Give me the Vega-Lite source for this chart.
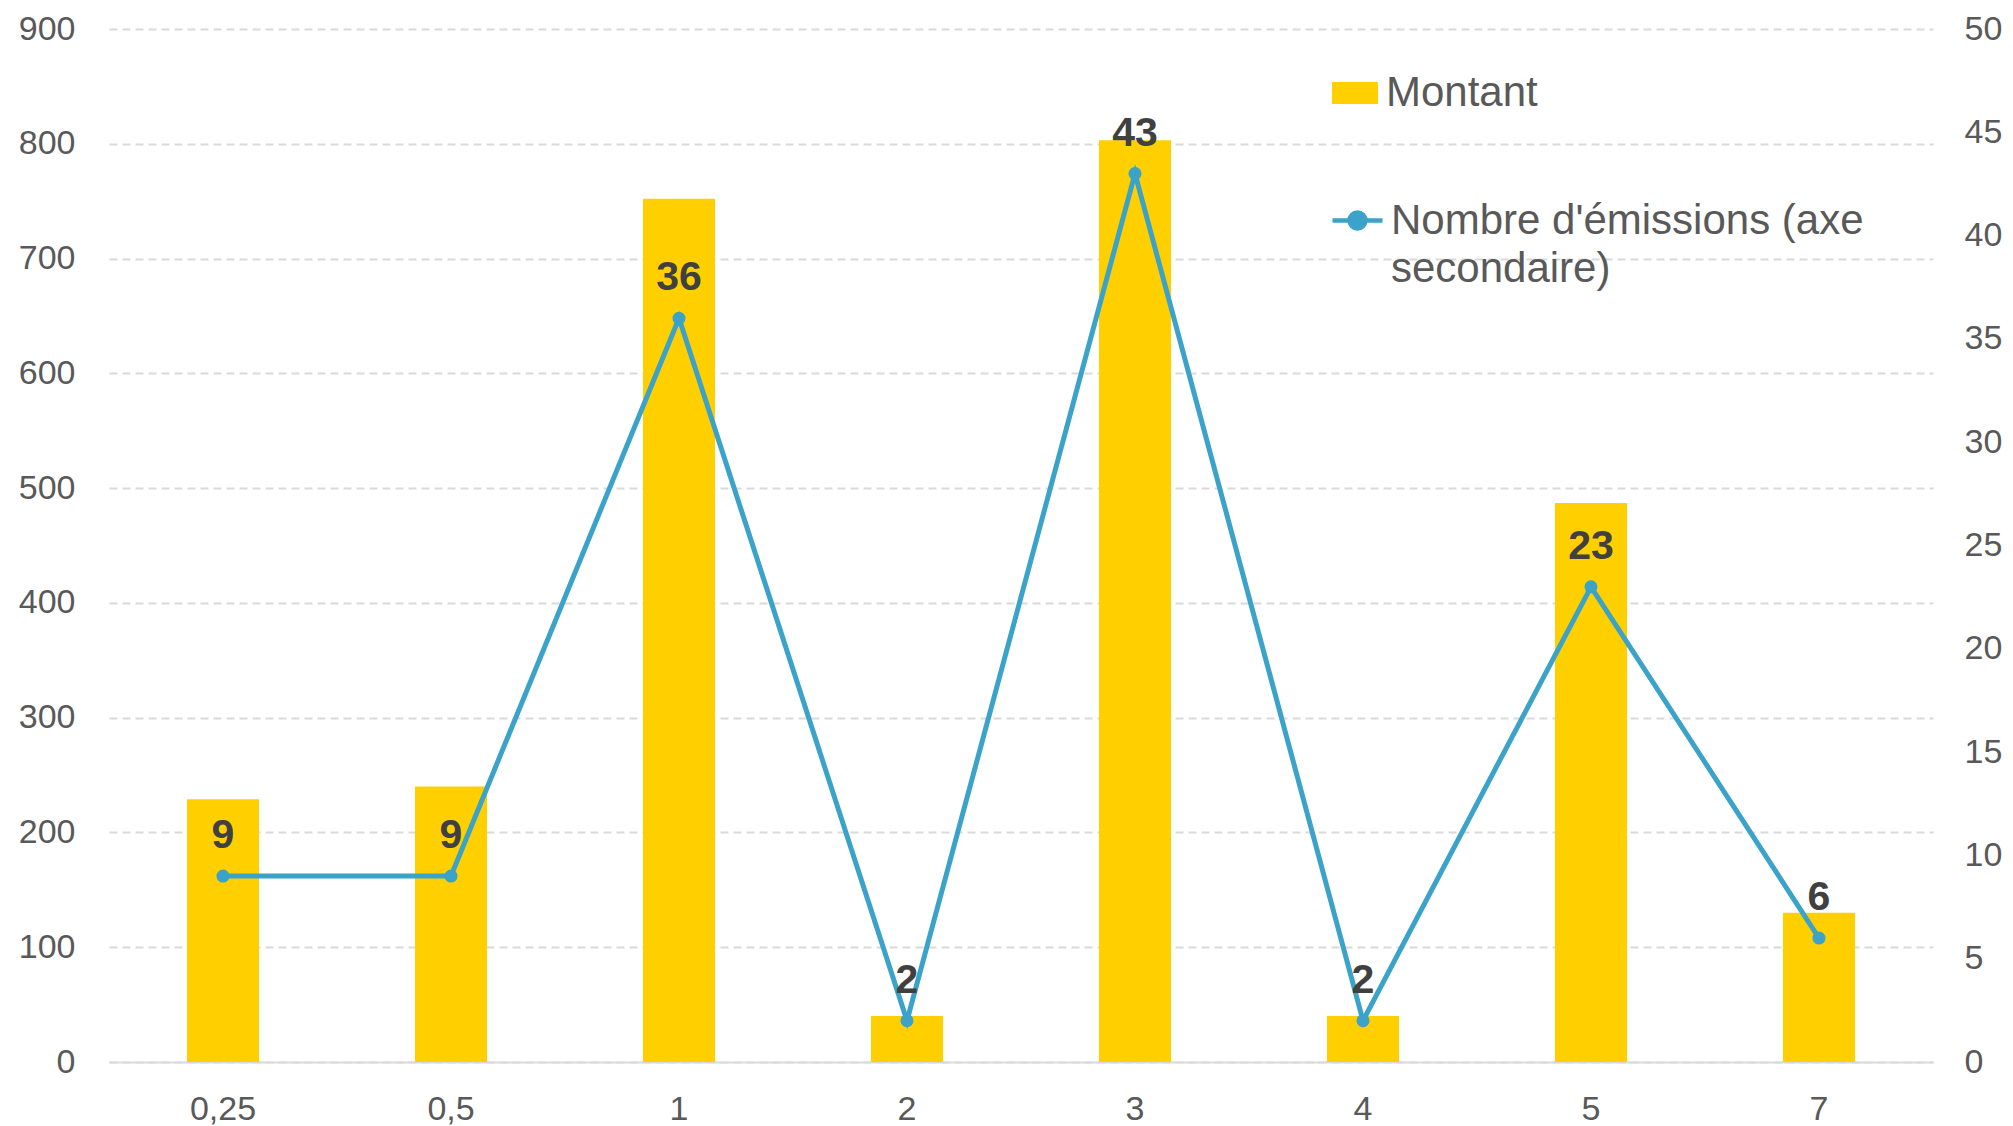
{
  "$schema": "https://vega.github.io/schema/vega-lite/v6.json",
  "width": 1824,
  "height": 1033,
  "autosize": {"type": "none"},
  "padding": {"left": 109, "top": 29, "right": 80, "bottom": 64},
  "background": "white",
  "config": {
    "font": "Liberation Sans",
    "view": {"stroke": null},
    "axis": {"labelFont": "Liberation Sans", "labelFontSize": 34, "labelColor": "#595959", "ticks": false, "tickSize": 0, "title": null, "domain": false, "grid": false},
    "legend": {"labelFont": "Liberation Sans", "labelFontSize": 42, "labelColor": "#595959", "padding": 0, "labelLimit": 700, "title": null}
  },
  "data": {
    "values": [
      {"cat": "0,25", "montant": 229, "nombre": 9},
      {"cat": "0,5", "montant": 240, "nombre": 9},
      {"cat": "1", "montant": 752, "nombre": 36},
      {"cat": "2", "montant": 40, "nombre": 2},
      {"cat": "3", "montant": 803, "nombre": 43},
      {"cat": "4", "montant": 40, "nombre": 2},
      {"cat": "5", "montant": 487, "nombre": 23},
      {"cat": "7", "montant": 130, "nombre": 6}
    ]
  },
  "encoding": {
    "x": {
      "field": "cat", "type": "nominal", "sort": null,
      "scale": {"paddingInner": 0.684, "paddingOuter": 0.342},
      "axis": {"labelAngle": 0, "domain": true, "domainColor": "#D9D9D9", "domainWidth": 2, "labelPadding": 30}
    }
  },
  "layer": [
    {
      "mark": {"type": "bar", "color": "#FFCF00"},
      "encoding": {
        "y": {
          "field": "montant", "type": "quantitative",
          "scale": {"domain": [0, 900], "nice": false},
          "axis": {"orient": "left", "values": [0, 100, 200, 300, 400, 500, 600, 700, 800, 900], "grid": true, "gridColor": "#D9D9D9", "gridDash": [8, 5], "gridWidth": 2, "labelPadding": 34}
        },
        "fill": {
          "datum": "Montant", "type": "nominal",
          "scale": {"range": ["#FFCF00"]},
          "legend": {"orient": "none", "legendX": 1223, "legendY": 41, "symbolType": "M-1,-0.478H1V0.478H-1Z", "symbolSize": 2116, "symbolStrokeWidth": 0, "labelOffset": 8}
        }
      }
    },
    {
      "layer": [
        {
          "mark": {"type": "line", "strokeWidth": 5},
          "encoding": {
            "y": {
              "field": "nombre", "type": "quantitative",
              "scale": {"domain": [0, 50], "nice": false},
              "axis": {"orient": "right", "values": [0, 5, 10, 15, 20, 25, 30, 35, 40, 45, 50], "grid": false, "labelPadding": 31}
            },
            "stroke": {
              "datum": "Nombre d'émissions (axe secondaire)", "type": "nominal",
              "scale": {"range": ["#3BA3C9"]},
              "legend": {"orient": "none", "legendX": 1221, "legendY": 164, "symbolType": "M-1,0H1M-0.32,0A0.32,0.32 0 1,1 0.32,0A0.32,0.32 0 1,1 -0.32,0", "symbolSize": 2500, "symbolStrokeWidth": 4.5, "symbolFillColor": "#3BA3C9", "symbolOpacity": 1, "labelOffset": 6, "labelBaseline": "middle", "labelExpr": "[\"Nombre d'émissions (axe\", \"secondaire)\"]", "encode": {"labels": {"update": {"lineHeight": {"value": 48}}}}}
            }
          }
        },
        {
          "mark": {"type": "point", "filled": true, "size": 170, "color": "#3BA3C9", "opacity": 1},
          "encoding": {"y": {"field": "nombre", "type": "quantitative"}}
        },
        {
          "mark": {"type": "text", "dy": -40, "baseline": "middle", "fontSize": 41, "fontWeight": "bold", "color": "#404040", "font": "Liberation Sans"},
          "encoding": {"y": {"field": "nombre", "type": "quantitative"}, "text": {"field": "nombre", "type": "quantitative"}}
        }
      ]
    }
  ],
  "resolve": {"scale": {"y": "independent"}}
}
